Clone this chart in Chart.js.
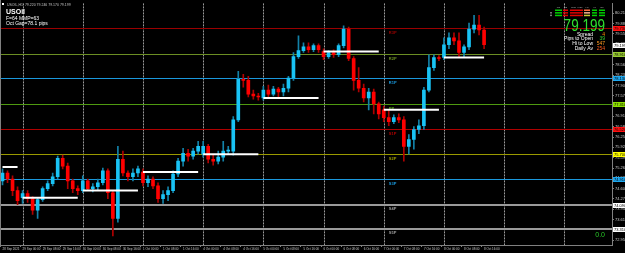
<!DOCTYPE html>
<html>
<head>
<meta charset="utf-8">
<script src="https://cdn.jsdelivr.net/npm/chart.js@4.4.0/dist/chart.umd.min.js"></script>
<style>
  html, body { margin: 0; padding: 0; background: #000; overflow: hidden; }
  canvas { display: block; }
</style>
</head>
<body>
<canvas id="chart" width="625" height="253"></canvas>
<script>
// USOIL, 2-hour bars, 28 Sep - 8 Oct
var dayNames = ['28 Sep', '29 Sep', '30 Sep', '1 Oct', '4 Oct', '5 Oct', '6 Oct', '7 Oct', '8 Oct'];
var dayFirstHour = [16, 0, 0, 0, 0, 0, 0, 0, 0];
var dayBarCount = [4, 12, 12, 12, 12, 12, 12, 12, 9];
var dayOpens = [75.29, 74.31, 74.54, 75.13, 75.70, 77.50, 78.98, 77.12, 78.79];
var futureBars = 25;

var openPrices = [74.85, 75.10, 74.91, 74.54, 74.31, 74.44, 74.28, 73.91, 74.25, 74.60, 74.76, 74.98, 75.57, 75.32, 74.85, 74.60,
  74.54, 74.85, 74.60, 74.66, 74.79, 75.17, 74.47, 73.65, 75.54, 75.10, 74.98, 75.10,
  75.13, 74.79, 74.91, 74.69, 74.28, 74.41, 74.54, 75.07, 75.48, 75.73, 75.64, 75.80,
  75.70, 75.95, 75.54, 75.48, 75.61, 75.80, 75.80, 76.80, 78.09, 78.06, 77.62, 77.56,
  77.50, 77.75, 77.62, 77.78, 77.69, 77.81, 78.13, 78.82, 79.01, 79.13, 79.04, 79.17,
  78.98, 78.82, 78.95, 78.88, 79.17, 79.70, 78.76, 78.06, 77.81, 77.50, 77.69, 77.31,
  77.12, 76.87, 76.74, 76.87, 76.80, 75.95, 76.17, 76.49, 76.61, 77.75, 78.47, 78.79,
  78.79, 79.20, 79.42, 79.32, 78.95, 79.13, 79.70, 79.83, 79.67];
var highPrices = [75.23, 75.17, 75.01, 74.66, 74.54, 74.54, 74.35, 74.31, 74.66, 74.85, 75.10, 75.64, 75.67, 75.42, 74.91, 74.69,
  75.01, 74.91, 74.76, 74.91, 75.26, 75.23, 74.54, 75.95, 75.80, 75.17, 75.23, 75.32,
  75.23, 75.01, 74.98, 74.79, 74.54, 74.66, 75.17, 75.57, 75.89, 75.86, 75.89, 76.11,
  76.11, 76.02, 75.67, 75.80, 76.11, 75.95, 76.90, 78.35, 78.25, 78.19, 77.75, 77.65,
  77.87, 77.91, 77.87, 77.84, 77.94, 78.19, 78.95, 79.48, 79.26, 79.26, 79.23, 79.23,
  79.07, 79.01, 79.04, 79.23, 79.80, 79.76, 78.82, 78.47, 77.94, 77.81, 77.78, 77.37,
  77.24, 77.12, 76.96, 76.99, 76.90, 76.33, 76.58, 76.80, 77.84, 78.88, 78.88, 78.85,
  79.42, 79.58, 79.58, 79.58, 79.20, 79.89, 80.14, 80.14, 79.76];
var lowPrices = [74.72, 74.79, 74.38, 74.09, 74.13, 74.16, 73.78, 73.65, 74.19, 74.54, 74.69, 74.91, 75.23, 74.60, 74.47, 74.41,
  74.47, 74.54, 74.50, 74.54, 74.72, 74.28, 73.09, 73.53, 75.01, 74.85, 74.85, 74.98,
  74.69, 74.66, 74.60, 74.16, 74.13, 74.22, 74.47, 74.98, 75.32, 75.48, 75.54, 75.70,
  75.61, 75.42, 75.35, 75.39, 75.48, 75.70, 75.67, 76.74, 77.84, 77.53, 77.46, 77.43,
  77.43, 77.53, 77.56, 77.53, 77.56, 77.69, 78.06, 78.76, 78.95, 78.95, 78.98, 78.95,
  78.72, 78.76, 78.79, 78.82, 79.10, 78.69, 77.75, 77.69, 77.37, 77.12, 76.99, 76.83,
  76.74, 76.61, 76.68, 76.71, 75.48, 75.70, 75.86, 76.36, 76.49, 77.69, 78.38, 78.69,
  78.72, 79.07, 79.20, 78.82, 78.79, 79.04, 79.58, 79.51, 79.07];
var closePrices = [75.10, 74.91, 74.54, 74.22, 74.44, 74.28, 73.91, 74.25, 74.60, 74.76, 74.98, 75.57, 75.32, 74.85, 74.60, 74.54,
  74.85, 74.60, 74.66, 74.79, 75.17, 74.47, 73.65, 75.54, 75.10, 74.98, 75.10, 75.23,
  74.79, 74.91, 74.69, 74.28, 74.41, 74.54, 75.07, 75.48, 75.73, 75.64, 75.80, 75.95,
  75.95, 75.54, 75.48, 75.61, 75.80, 75.83, 76.80, 78.09, 78.06, 77.62, 77.56, 77.53,
  77.75, 77.62, 77.78, 77.69, 77.81, 78.13, 78.82, 79.01, 79.13, 79.04, 79.17, 79.04,
  78.82, 78.95, 78.88, 79.17, 79.70, 78.76, 78.06, 77.81, 77.50, 77.69, 77.31, 76.99,
  76.87, 76.74, 76.87, 76.80, 75.95, 76.17, 76.49, 76.61, 77.75, 78.47, 78.79, 78.76,
  79.20, 79.42, 79.32, 78.95, 79.13, 79.70, 79.83, 79.67, 79.199];

// horizontal levels drawn across the chart
var levelPrices = [79.73, 78.91, 78.13, 77.31, 76.52, 75.70, 74.91, 74.09, 73.31];
var levelNames = ['R3P', 'R2P', 'R1P', 'PP', 'S1P', 'S2P', 'S3P', 'S4P', 'S5P'];
var levelColors = ['#9a0000', '#6b8e23', '#1a98dc', '#4f9a10', '#b00000', '#9a9a00', '#1a98dc', '#9a9a9a', '#9a9a9a'];
var levelWidths = [1, 1, 1, 1, 1, 1, 1, 2, 2];
var levelBoxColors = ['#ff1010', '#9acd32', '#1ea8f0', '#8ee000', '#ff1010', '#ffff00', '#1ea8f0', '#ffffff', '#ffffff'];

var priceTicks = [80.210, 79.880, 79.550, 79.220, 78.890, 78.560, 78.230, 77.900, 77.570, 77.240, 76.910, 76.580,
  76.250, 75.920, 75.590, 75.260, 74.930, 74.600, 74.270, 73.940, 73.610, 73.280, 72.950];

var bidPrice = 79.199;
var infoNames = ['Spread', 'Pips to Open', 'Hi to Low', 'Daily Av'];
var infoValues = ['4', '39', '547', '254'];
var infoColors = ['#ff8c00', '#32d232', '#ff9a20', '#ff5a1a'];
var tfNames = ['M1', 'M5', 'M15', 'M30', 'H1', 'H4', 'D1'];
var tfColors = [
  ['#00d000', '#00d000', '#00d000'],
  ['#e00000', '#e00000', '#e00000'],
  ['#e00000', '#e00000', '#e00000'],
  ['#e00000', '#e00000', '#e00000'],
  ['#ff7040', '#ffb090', '#c8c832'],
  ['#00d000', '#00d000', '#00d000'],
  ['#00d000', '#00d000', '#00d000']
];

// category labels
var timeLabels = [];
var dayOfBar = [];
dayNames.forEach(function (name, d) {
  for (var k = 0; k < dayBarCount[d]; k++) {
    var h = dayFirstHour[d] + 2 * k;
    timeLabels.push(name + ' ' + (h < 10 ? '0' : '') + h + ':00');
    dayOfBar.push(d);
  }
});
timeLabels[0] = '28 Sep 2021';
var barCount = timeLabels.length;
for (var f = 0; f < futureBars; f++) timeLabels.push('');

var font = 'Liberation Sans, Arial, sans-serif';
var upBody = '#19c3f5', downBody = '#ff0000';
var upWick = '#1382a8', downWick = '#b00000';

var isUp = closePrices.map(function (c, i) { return c >= openPrices[i]; });

var datasets = [];

// daily open segments
dayOpens.forEach(function (open, d) {
  var data = timeLabels.map(function (l, i) { return (i < barCount && dayOfBar[i] === d) ? open : null; });
  datasets.push({
    type: 'line',
    data: data,
    borderColor: '#ffffff',
    borderWidth: 2,
    pointRadius: 0,
    spanGaps: false,
    order: 0
  });
});

datasets.push({
  type: 'bar',
  data: lowPrices.map(function (l, i) { return [l, highPrices[i]]; }),
  backgroundColor: isUp.map(function (u) { return u ? upWick : downWick; }),
  barThickness: 1,
  grouped: false,
  order: 2
});
datasets.push({
  type: 'bar',
  data: openPrices.map(function (o, i) { return [o, closePrices[i]]; }),
  backgroundColor: isUp.map(function (u) { return u ? upBody : downBody; }),
  barThickness: 3,
  grouped: false,
  order: 1
});

var overlay = {
  id: 'overlay',
  beforeDatasetsDraw: function (chart) {
    var ctx = chart.ctx, area = chart.chartArea, xs = chart.scales.x, ys = chart.scales.y;
    ctx.save();
    // dotted vertical grid at each day start
    ctx.strokeStyle = '#9a9a9a';
    ctx.lineWidth = 1;
    ctx.setLineDash([2, 1]);
    for (var i = 4; i < timeLabels.length; i += 12) {
      var gx = Math.round(xs.getPixelForValue(i)) + 0.5;
      ctx.beginPath();
      ctx.moveTo(gx, area.top);
      ctx.lineTo(gx, area.bottom);
      ctx.stroke();
    }
    ctx.setLineDash([]);
    // level lines and their names
    levelPrices.forEach(function (p, k) {
      var py = Math.round(ys.getPixelForValue(p)) + (levelWidths[k] === 1 ? 0.5 : 0);
      ctx.strokeStyle = levelColors[k];
      ctx.lineWidth = levelWidths[k];
      ctx.beginPath();
      ctx.moveTo(area.left, py);
      ctx.lineTo(area.right, py);
      ctx.stroke();
      ctx.fillStyle = levelColors[k];
      ctx.font = 'bold 4px ' + font;
      ctx.textAlign = 'left';
      ctx.textBaseline = 'alphabetic';
      ctx.fillText(levelNames[k], xs.getPixelForValue(77), py + 5);
    });
    ctx.restore();
  },
  afterDraw: function (chart) {
    var ctx = chart.ctx, area = chart.chartArea, ys = chart.scales.y;
    ctx.save();
    // left border
    ctx.strokeStyle = '#808080';
    ctx.lineWidth = 1;
    ctx.beginPath();
    ctx.moveTo(0.5, 0);
    ctx.lineTo(0.5, area.bottom);
    ctx.stroke();

    // price boxes on the axis
    ctx.font = '4px ' + font;
    ctx.textBaseline = 'middle';
    ctx.textAlign = 'left';
    var boxes = levelPrices.map(function (p, k) { return { p: p, c: levelBoxColors[k] }; });
    boxes.push({ p: bidPrice, c: '#ffffff' });
    boxes.forEach(function (b) {
      var by = ys.getPixelForValue(b.p);
      ctx.fillStyle = b.c;
      ctx.fillRect(area.right + 1, Math.round(by) - 2, 13, 5);
      ctx.fillStyle = '#000';
      ctx.fillText(b.p.toFixed(3), area.right + 2, Math.round(by) + 0.5);
    });

    // top-left caption
    ctx.textBaseline = 'alphabetic';
    ctx.fillStyle = '#ffffff';
    ctx.fillRect(2, 3, 2, 2);
    ctx.fillStyle = '#c0c0c0';
    ctx.font = '3.5px ' + font;
    ctx.fillText('USOIL,H1  79.220 79.246 79.170 79.199', 7, 5.5);
    ctx.fillStyle = '#ffffff';
    ctx.font = 'bold 7px ' + font;
    ctx.fillText('USOil', 6, 14);
    ctx.font = '5px ' + font;
    ctx.fillText('F=64 MMP=63', 6, 19.5);
    ctx.fillText('Oct Gap=78.1 pips', 6, 24.5);

    // top-right panel: timeframe strip
    var colX = [555, 563, 570, 577, 584, 592, 599];
    var colW = [7, 5, 7, 6, 6, 5, 6];
    ctx.font = '2.5px ' + font;
    ctx.fillStyle = '#b0b0b0';
    ctx.textAlign = 'center';
    tfNames.forEach(function (n, c) { ctx.fillText(n, colX[c] + colW[c] / 2, 8); });
    tfColors.forEach(function (col, c) {
      col.forEach(function (color, r) {
        ctx.fillStyle = color;
        ctx.fillRect(colX[c], 9.5 + r * 2.6, colW[c], 1.5);
      });
    });
    ctx.fillStyle = '#ffffff';
    ctx.font = '7px ' + font;
    ctx.fillText('\u2195', 551, 16);

    // big bid price
    ctx.save();
    ctx.translate(605, 30.5);
    ctx.scale(0.82, 1);
    ctx.textAlign = 'right';
    ctx.fillStyle = '#2ee02e';
    ctx.font = '16.5px ' + font;
    ctx.fillText(bidPrice.toFixed(3), 0, 0);
    ctx.restore();

    // info rows
    ctx.font = '5px ' + font;
    infoNames.forEach(function (n, k) {
      var yy = 35.5 + k * 4.8;
      ctx.textAlign = 'right';
      ctx.fillStyle = '#ffffff';
      ctx.fillText(n, 593, yy);
      ctx.fillStyle = infoColors[k];
      ctx.fillText(infoValues[k], 605, yy);
    });

    ctx.fillStyle = '#28c828';
    ctx.font = '7px ' + font;
    ctx.textAlign = 'right';
    ctx.fillText('0.0', 605, 237);
    ctx.restore();
  }
};

new Chart(document.getElementById('chart').getContext('2d'), {
  data: { labels: timeLabels, datasets: datasets },
  options: {
    responsive: false,
    animation: false,
    events: [],
    layout: { padding: 0 },
    plugins: { legend: { display: false }, tooltip: { enabled: false } },
    scales: {
      x: {
        type: 'category',
        offset: true,
        grid: {
          display: true,
          drawOnChartArea: false,
          tickLength: 2,
          color: function (c) { return (c.index % 4 === 0 && c.index < barCount) ? '#808080' : 'rgba(0,0,0,0)'; }
        },
        border: { display: true, color: '#808080' },
        ticks: {
          autoSkip: false,
          maxRotation: 0,
          minRotation: 0,
          align: 'start',
          padding: 0,
          color: '#c8c8c8',
          font: { size: 3, family: font },
          callback: function (v, i) { return (i % 4 === 0 && i < barCount) ? timeLabels[i] : ''; }
        },
        afterFit: function (s) { s.height = 8; }
      },
      y: {
        position: 'right',
        min: 72.80,
        max: 80.52,
        afterBuildTicks: function (s) { s.ticks = priceTicks.map(function (v) { return { value: v }; }); },
        grid: { drawOnChartArea: false, tickLength: 2, color: '#808080' },
        border: { display: true, color: '#808080' },
        ticks: {
          padding: 1,
          color: '#c8c8c8',
          font: { size: 4, family: font },
          callback: function (v) { return Number(v).toFixed(3); }
        },
        afterFit: function (s) { s.width = 13; }
      }
    }
  },
  plugins: [overlay, {
    id: 'bg',
    beforeDraw: function (chart) {
      chart.ctx.save();
      chart.ctx.fillStyle = '#000';
      chart.ctx.fillRect(0, 0, chart.width, chart.height);
      chart.ctx.restore();
    }
  }]
});
</script>
</body>
</html>
